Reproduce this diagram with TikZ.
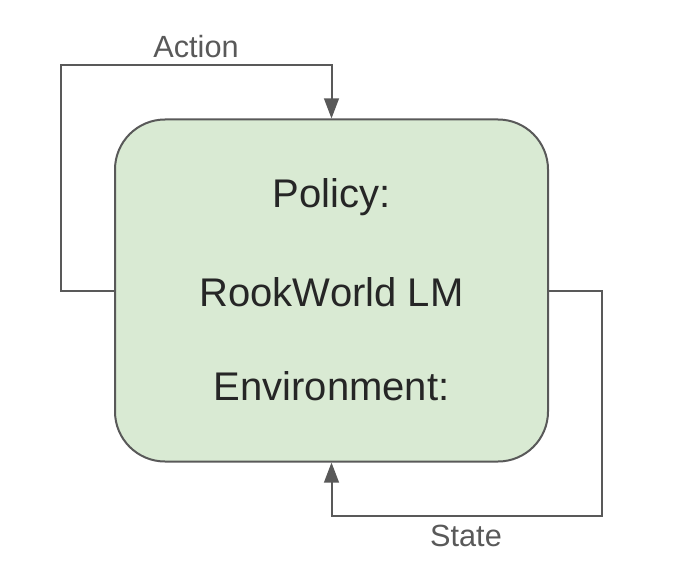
\documentclass[tikz,border=0pt]{standalone}
\usepackage{fontspec}
\setmainfont{Liberation Sans}
\usetikzlibrary{arrows.meta}
\definecolor{boxfill}{HTML}{D9EAD3}
\definecolor{linegray}{HTML}{595959}
\definecolor{labelgray}{HTML}{595959}
\begin{document}
\begin{tikzpicture}[x=0.75pt,y=-0.75pt,
  mainbox/.style={draw=linegray,fill=boxfill,line width=1.5pt,rounded corners=37.5pt,
    minimum width=324.75pt,minimum height=256.5pt,inner sep=0pt},
  maintext/.style={font=\fontsize{30pt}{36pt}\selectfont,text=black!85,inner sep=0pt},
  looplabel/.style={font=\fontsize{23pt}{28pt}\selectfont,text=labelgray,inner sep=0pt},
  conn/.style={draw=linegray,line width=1.5pt,-{Triangle[width=11pt,length=15pt]}}]
\useasboundingbox (0,0) rectangle (682,567);
\node[mainbox] (box) at (331.5,290.5) {};
\node[maintext] (policy) at (331.5,197) {Policy:};
\node[maintext] (model) at (331.5,292) {RookWorld LM};
\node[maintext] (env) at (331.5,386) {Environment:};
\coordinate (aL) at (60.5,290.5);
\coordinate (aT) at (60.5,65);
\coordinate (sR) at (602,290.5);
\coordinate (sB) at (602,516);
\draw[conn] (box.west) -- (aL) -- (aT) -| (box.north);
\draw[conn] (box.east) -- (sR) -- (sB) -| (box.south);
\node[looplabel] (action) at (196,47) {Action};
\node[looplabel] (state) at (466,536) {State};
\end{tikzpicture}
\end{document}
